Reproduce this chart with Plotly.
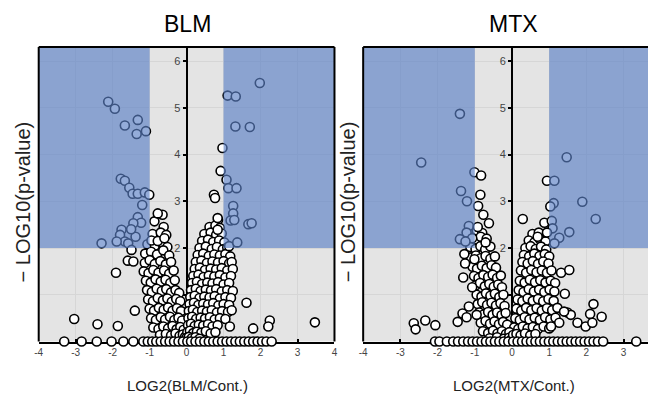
import plotly.graph_objects as go

# ---------------- DATA ----------------
# BLM: significant / outlying points
blm_out_x = [-2.12, -1.94, -1.32, -1.67, -1.35, -1.10, -1.78, -1.67, -1.55, -1.46, -1.32, -1.13, -1.01,
             -1.20, -1.32, -1.23, -1.44, -1.38, -1.50, -1.76, -1.80, -1.67, -1.89, -2.30, -1.58,
             -0.87, -0.65, -0.78, -0.95, -0.78, -0.60, -1.49, -1.59, -1.44, -1.91, -1.40, -1.86, -3.04, -2.41,
             1.98, 1.11, 1.33, 1.32, 1.71, 0.97, 0.92, 1.08, 1.13, 1.35, 0.74, 0.77, 1.26, 1.26, 1.19, 1.29,
             1.67, 1.76, 1.15, 1.37, 0.84, 0.84, 1.62, 1.17, 1.80, 2.25, 2.21, 3.47, 1.22]
blm_out_y = [5.13, 4.98, 4.74, 4.62, 4.44, 4.50, 3.48, 3.44, 3.29, 3.16, 3.16, 3.19, 3.14,
             2.92, 2.66, 2.54, 2.53, 2.24, 2.40, 2.39, 2.28, 2.14, 2.14, 2.10, 2.10,
             2.57, 2.71, 2.74, 2.16, 2.15, 2.21, 1.96, 1.73, 1.71, 1.47, 0.66, 0.33, 0.48, 0.37,
             5.53, 5.26, 5.24, 4.60, 4.59, 4.14, 3.65, 3.46, 3.28, 3.28, 3.14, 3.07, 2.90, 2.74, 2.59, 2.60,
             2.51, 2.53, 2.04, 2.12, 2.64, 2.39, 0.83, 0.32, 0.28, 0.45, 0.32, 0.41, 0.67]

# BLM: dense core, left arm
blm_left_x = [-0.62, -0.92, -0.70, -0.55, -1.06, -0.86, -0.68, -0.52, -1.12, -0.96, -0.80, -0.63, -0.47,
              -1.13, -1.00, -0.86, -0.71, -0.56, -0.42, -1.16, -1.03, -0.90, -0.76, -0.61, -0.47, -0.35,
              -1.10, -0.97, -0.84, -0.70, -0.57, -0.44, -0.32, -1.07, -0.94, -0.81, -0.67, -0.55, -0.42, -0.30, -0.20,
              -1.04, -0.91, -0.78, -0.64, -0.52, -0.40, -0.28, -0.17, -1.00, -0.88, -0.75, -0.62, -0.50, -0.38, -0.26, -0.15,
              -0.96, -0.83, -0.70, -0.58, -0.45, -0.33, -0.22, -0.12, -0.90, -0.76, -0.63, -0.50, -0.38, -0.27, -0.17, -0.08,
              -0.72, -0.56, -0.42, -0.30, -0.19, -0.10, -0.04]
blm_left_y = [2.45, 2.30, 2.33, 2.28, 2.08, 2.05, 2.12, 2.02, 1.88, 1.92, 1.86, 1.95, 1.84,
              1.68, 1.74, 1.66, 1.72, 1.65, 1.70, 1.50, 1.46, 1.53, 1.47, 1.52, 1.45, 1.52,
              1.30, 1.26, 1.33, 1.28, 1.32, 1.25, 1.31, 1.10, 1.06, 1.13, 1.08, 1.12, 1.05, 1.10, 1.04,
              0.90, 0.86, 0.93, 0.88, 0.92, 0.85, 0.91, 0.86, 0.70, 0.66, 0.72, 0.68, 0.73, 0.66, 0.71, 0.65,
              0.50, 0.46, 0.52, 0.47, 0.53, 0.46, 0.51, 0.45, 0.30, 0.27, 0.32, 0.28, 0.33, 0.26, 0.31, 0.25,
              0.14, 0.16, 0.13, 0.17, 0.12, 0.15, 0.10]

# BLM: dense core, right arm
blm_right_x = [0.85, 0.62, 0.78, 0.90, 0.48, 0.65, 0.80, 0.95, 0.42, 0.58, 0.72, 0.88, 1.02,
               0.35, 0.52, 0.68, 0.82, 0.98, 1.10, 0.30, 0.45, 0.60, 0.75, 0.90, 1.05, 1.18,
               0.25, 0.40, 0.55, 0.70, 0.85, 1.00, 1.15, 1.22, 0.22, 0.36, 0.50, 0.65, 0.80, 0.95, 1.10, 1.25,
               0.18, 0.32, 0.46, 0.60, 0.75, 0.90, 1.05, 1.20, 0.15, 0.28, 0.42, 0.56, 0.70, 0.85, 1.00, 1.15,
               0.12, 0.25, 0.38, 0.52, 0.66, 0.80, 0.95, 1.10, 1.25, 0.10, 0.22, 0.35, 0.48, 0.62, 0.76, 0.90, 1.05, 1.20,
               0.08, 0.20, 0.32, 0.45, 0.58, 0.72, 0.86, 1.00, 1.15, 0.06, 0.17, 0.29, 0.42, 0.55, 0.68, 0.82, 0.96, 1.12,
               0.05, 0.15, 0.26, 0.38, 0.50, 0.63, 0.76, 0.90, 1.05, 0.04, 0.12, 0.22, 0.33, 0.45, 0.58, 0.70, 0.84,
               0.02, 0.09, 0.18, 0.28, 0.40, 0.52, 0.65, 0.78, 0.00, 0.06, 0.14, 0.24, 0.35]
blm_right_y = [2.60, 2.45, 2.48, 2.43, 2.30, 2.33, 2.28, 2.31, 2.15, 2.18, 2.13, 2.16, 2.12,
               2.00, 2.03, 1.98, 2.02, 1.97, 2.01, 1.85, 1.88, 1.83, 1.86, 1.84, 1.87, 1.82,
               1.70, 1.73, 1.68, 1.71, 1.69, 1.72, 1.67, 1.70, 1.55, 1.58, 1.53, 1.56, 1.54, 1.57, 1.52, 1.55,
               1.40, 1.43, 1.38, 1.41, 1.39, 1.42, 1.37, 1.40, 1.25, 1.28, 1.23, 1.26, 1.24, 1.27, 1.22, 1.25,
               1.10, 1.13, 1.08, 1.11, 1.09, 1.12, 1.07, 1.10, 1.08, 0.95, 0.98, 0.93, 0.96, 0.94, 0.97, 0.92, 0.95, 0.93,
               0.80, 0.83, 0.78, 0.81, 0.79, 0.82, 0.77, 0.80, 0.78, 0.65, 0.68, 0.63, 0.66, 0.64, 0.67, 0.62, 0.65, 0.63,
               0.50, 0.53, 0.48, 0.51, 0.49, 0.52, 0.47, 0.50, 0.48, 0.35, 0.38, 0.33, 0.36, 0.34, 0.37, 0.32, 0.35,
               0.20, 0.23, 0.18, 0.21, 0.19, 0.22, 0.17, 0.20, 0.08, 0.10, 0.07, 0.09, 0.06]

# BLM: proteins with -log10(p) = 0
blm_zero_x = [-3.31, -2.84, -2.43, -2.03, -1.71, -1.44, -1.17, -1.05, -0.93, -0.82, -0.70, -0.58, -0.46, -0.34,
              -0.22, -0.10, 0.02, 0.12, 0.24, 0.36, 0.48, 0.60, 0.72, 0.84, 0.96, 1.08, 1.20, 1.32, 1.44, 1.56,
              1.68, 1.80, 1.92, 2.04, 2.16, 2.30]

# MTX: significant / outlying points
mtx_out_x = [-1.40, -2.44, -1.01, -0.83, -1.37, -0.85, -1.21, -0.91, -0.77, -0.62, -1.16, -1.22, -1.07, -1.40,
             -1.25, -0.92, -0.71, -1.28, -1.26, -1.01, -1.31, -1.07, -1.16, -1.33, -1.22, -1.46, -2.06, -2.33,
             -2.64, -2.59, -0.95,
             1.47, 0.94, 1.14, 1.12, 1.03, 1.89, 2.25, 0.29, 0.87, 1.07, 1.09, 1.27, 1.54, 1.14, 0.94, 0.69,
             1.32, 1.54, 1.42, 2.19, 1.49, 1.58, 2.10, 2.41, 1.76, 1.98, 2.16, 1.27, 1.05, 1.40]
mtx_out_y = [4.87, 3.83, 3.62, 3.55, 3.22, 3.14, 3.00, 2.90, 2.71, 2.53, 2.47, 2.33, 2.21, 2.19,
             2.14, 2.45, 2.12, 1.87, 1.67, 1.76, 1.37, 1.16, 0.75, 0.60, 0.52, 0.42, 0.35, 0.45,
             0.39, 0.26, 0.57,
             3.94, 3.44, 3.44, 2.96, 2.89, 2.99, 2.62, 2.62, 2.54, 2.58, 2.42, 2.22, 2.34, 2.10, 2.33, 2.24,
             1.47, 1.53, 1.02, 0.80, 0.62, 0.57, 0.59, 0.53, 0.40, 0.32, 0.40, 0.40, 0.32, 0.64]

# MTX: dense core, left arm
mtx_left_x = [-0.95, -0.80, -1.10, -0.96, -0.84, -0.68, -1.12, -0.98, -0.85, -0.72, -0.58,
              -1.10, -0.97, -0.84, -0.71, -0.58, -0.46, -1.06, -0.94, -0.81, -0.68, -0.55, -0.43,
              -1.02, -0.90, -0.77, -0.64, -0.52, -0.40, -0.30, -0.98, -0.86, -0.73, -0.61, -0.49, -0.37, -0.27,
              -0.95, -0.82, -0.70, -0.58, -0.46, -0.34, -0.23, -0.92, -0.80, -0.67, -0.55, -0.43, -0.31, -0.20,
              -0.88, -0.76, -0.64, -0.52, -0.40, -0.28, -0.17, -0.84, -0.71, -0.59, -0.47, -0.35, -0.24, -0.13,
              -0.78, -0.64, -0.51, -0.39, -0.27, -0.16, -0.07, -0.60, -0.40, -0.22, -0.08, -0.02]
mtx_left_y = [2.38, 2.32, 2.22, 2.18, 2.24, 2.20, 2.02, 1.98, 2.04, 1.97, 2.03,
              1.80, 1.84, 1.78, 1.83, 1.77, 1.82, 1.60, 1.56, 1.62, 1.57, 1.63, 1.58,
              1.40, 1.36, 1.42, 1.38, 1.43, 1.36, 1.41, 1.20, 1.25, 1.18, 1.23, 1.17, 1.22, 1.16,
              1.00, 0.96, 1.03, 0.98, 1.02, 0.95, 1.00, 0.80, 0.84, 0.78, 0.83, 0.77, 0.82, 0.76,
              0.62, 0.58, 0.63, 0.57, 0.62, 0.56, 0.61, 0.40, 0.44, 0.38, 0.43, 0.37, 0.42, 0.36,
              0.22, 0.18, 0.23, 0.17, 0.22, 0.16, 0.20, 0.07, 0.09, 0.06, 0.08, 0.04]

# MTX: dense core, right arm
mtx_right_x = [0.55, 0.72, 0.45, 0.60, 0.76, 0.90, 0.36, 0.50, 0.64, 0.78, 0.92,
               0.32, 0.46, 0.60, 0.74, 0.88, 1.00, 0.28, 0.42, 0.56, 0.70, 0.84, 0.98,
               0.24, 0.38, 0.52, 0.66, 0.80, 0.94, 1.06, 0.21, 0.34, 0.48, 0.62, 0.76, 0.90, 1.04, 1.16,
               0.18, 0.31, 0.45, 0.59, 0.73, 0.87, 1.01, 1.14, 0.15, 0.28, 0.42, 0.56, 0.70, 0.84, 0.98, 1.12,
               0.12, 0.25, 0.38, 0.52, 0.66, 0.80, 0.94, 1.08, 1.22, 0.09, 0.21, 0.34, 0.47, 0.61, 0.75, 0.89, 1.03, 1.17,
               0.06, 0.17, 0.29, 0.42, 0.56, 0.70, 0.85, 1.00, 0.03, 0.12, 0.23, 0.35, 0.49, 0.63]
mtx_right_y = [2.30, 2.33, 2.16, 2.12, 2.18, 2.14, 2.00, 2.04, 1.98, 2.03, 1.97,
               1.85, 1.82, 1.88, 1.83, 1.87, 1.82, 1.70, 1.67, 1.72, 1.66, 1.71, 1.67,
               1.52, 1.47, 1.53, 1.48, 1.52, 1.47, 1.52, 1.30, 1.26, 1.32, 1.27, 1.31, 1.26, 1.30, 1.25,
               1.10, 1.06, 1.12, 1.07, 1.11, 1.06, 1.11, 1.07, 0.90, 0.86, 0.92, 0.87, 0.91, 0.86, 0.91, 0.87,
               0.70, 0.66, 0.72, 0.67, 0.71, 0.66, 0.71, 0.67, 0.72, 0.50, 0.46, 0.52, 0.47, 0.51, 0.46, 0.52, 0.47, 0.51,
               0.30, 0.27, 0.32, 0.28, 0.31, 0.27, 0.32, 0.28, 0.14, 0.16, 0.13, 0.17, 0.13, 0.16]

# MTX: proteins with -log10(p) = 0
mtx_zero_x = [-2.07, -1.95, -1.75, -1.58, -1.45, -1.31, -1.18, -1.06, -0.94, -0.82, -0.70, -0.58, -0.46, -0.34,
              -0.22, -0.10, 0.03, 0.15, 0.27, 0.39, 0.51, 0.63, 0.75, 0.87, 0.99, 1.11, 1.23, 1.35, 1.47, 1.59,
              1.71, 1.83, 1.95, 2.07, 2.19, 2.31, 2.45, 3.34]

panel_titles = ["BLM", "MTX"]
x_titles = ["LOG2(BLM/Cont.)", "LOG2(MTX/Cont.)"]
y_title = "− LOG10(p-value)"
x_ticks = [-4, -3, -2, -1, 0, 1, 2, 3, 4]
y_ticks = [1, 2, 3, 4, 5, 6]
y_ticktext = ["", "2", "3", "4", "5", "6"]
fc_cut = 1      # |log2 FC| threshold
p_cut = 2       # -log10 p threshold

# ---------------- LAYOUT ----------------
OFF = 8                      # default page body margin
W, H = 656 - OFF, 396 - OFF
def fx(px):
    return (px - OFF) / W
def fy(py):
    return 1 - (py - OFF) / H

SANS = "Liberation Sans, Arial, sans-serif"

y_range = [0, 6.3]
x_range_l = [-4, 4]
x_range_r = [-4, 3.79]
dom_l = [fx(35), fx(334)]
dom_r = [fx(363), 1.0]
dom_y = [fy(341.5), fy(47)]

marker = dict(size=9, color="white", line=dict(color="black", width=1.6))

def split(xs, ys, low):
    pts = [(a, b) for a, b in zip(xs, ys) if (b < 0.25) == low]
    return [p[0] for p in pts], [p[1] for p in pts]

fig = go.Figure()
panels = [
    (blm_zero_x, blm_left_x + blm_right_x + blm_out_x, blm_left_y + blm_right_y + blm_out_y, "x", "y"),
    (mtx_zero_x, mtx_left_x + mtx_right_x + mtx_out_x, mtx_left_y + mtx_right_y + mtx_out_y, "x2", "y2"),
]
for zx, xs, ys, xa, ya in panels:
    hx, hy = split(xs, ys, False)
    fig.add_trace(go.Scatter(x=hx, y=hy, mode="markers", marker=marker, cliponaxis=True,
                             xaxis=xa, yaxis=ya, showlegend=False))
    lx, ly = split(xs, ys, True)
    fig.add_trace(go.Scatter(x=lx + zx, y=ly + [0] * len(zx), mode="markers", marker=marker,
                             cliponaxis=False, xaxis=xa, yaxis=ya, showlegend=False))

def xaxis_cfg(dom, rng, anchor):
    return dict(domain=dom, range=rng, anchor=anchor, tickmode="array", tickvals=x_ticks,
                ticktext=[str(v) for v in x_ticks], ticks="inside", ticklen=3, tickwidth=1.5,
                tickcolor="black", tickfont=dict(family=SANS, size=10, color="#444444"),
                showline=True, linecolor="black", linewidth=2, showgrid=True, gridcolor="#d6d6d6",
                gridwidth=1, zeroline=False, layer="below traces", fixedrange=True)

def yaxis_cfg(pos):
    return dict(domain=dom_y, range=y_range, anchor="free", position=pos, tickmode="array",
                tickvals=y_ticks, ticktext=y_ticktext, ticks="outside", ticklen=3, tickwidth=1.5,
                tickcolor="black", tickfont=dict(family=SANS, size=11, color="#444444"),
                showline=True, linecolor="black", linewidth=2, showgrid=True, gridcolor="#d6d6d6",
                gridwidth=1, zeroline=False, layer="below traces", fixedrange=True)

pos_l = dom_l[0] + (0 - x_range_l[0]) / (x_range_l[1] - x_range_l[0]) * (dom_l[1] - dom_l[0])
pos_r = dom_r[0] + (0 - x_range_r[0]) / (x_range_r[1] - x_range_r[0]) * (dom_r[1] - dom_r[0])

shapes = []
BLUE = "#5b80c4"
for xr, yr, rng in (("x", "y", x_range_l), ("x2", "y2", x_range_r)):
    shapes.append(dict(type="rect", xref=xr, yref=yr, x0=rng[0], x1=-fc_cut, y0=p_cut, y1=y_range[1],
                       fillcolor=BLUE, opacity=0.65, line=dict(width=0), layer="above"))
    shapes.append(dict(type="rect", xref=xr, yref=yr, x0=fc_cut, x1=rng[1], y0=p_cut, y1=y_range[1],
                       fillcolor=BLUE, opacity=0.65, line=dict(width=0), layer="above"))
frame = dict(color="black", width=2)
# left panel frame (left, top, right)
shapes.append(dict(type="line", xref="paper", yref="paper", x0=dom_l[0], x1=dom_l[0], y0=dom_y[0], y1=dom_y[1], line=frame, layer="above"))
shapes.append(dict(type="line", xref="paper", yref="paper", x0=dom_l[0], x1=dom_l[1], y0=dom_y[1], y1=dom_y[1], line=frame, layer="above"))
shapes.append(dict(type="line", xref="paper", yref="paper", x0=dom_l[1], x1=dom_l[1], y0=dom_y[0], y1=dom_y[1], line=frame, layer="above"))
# right panel frame (left, top)
shapes.append(dict(type="line", xref="paper", yref="paper", x0=dom_r[0], x1=dom_r[0], y0=dom_y[0], y1=dom_y[1], line=frame, layer="above"))
shapes.append(dict(type="line", xref="paper", yref="paper", x0=dom_r[0], x1=dom_r[1], y0=dom_y[1], y1=dom_y[1], line=frame, layer="above"))

annotations = []
for cx, t in ((185, panel_titles[0]), (515, panel_titles[1])):
    annotations.append(dict(text=t, x=fx(cx), y=fy(24), xref="paper", yref="paper", showarrow=False,
                            xanchor="center", yanchor="middle",
                            font=dict(family=SANS, size=23, color="black")))
for cx, t in ((185, x_titles[0]), (515, x_titles[1])):
    annotations.append(dict(text=t, x=fx(cx), y=fy(385), xref="paper", yref="paper", showarrow=False,
                            xanchor="center", yanchor="middle",
                            font=dict(family=SANS, size=15, color="#222222")))
for cx in (19.5, 348):
    annotations.append(dict(text=y_title, x=fx(cx), y=fy(202), xref="paper", yref="paper", showarrow=False,
                            xanchor="center", yanchor="middle", textangle=-90,
                            font=dict(family=SANS, size=20, color="#222222")))

fig.update_layout(
    width=W, height=H, margin=dict(l=0, r=0, t=0, b=0),
    paper_bgcolor="white", plot_bgcolor="#e4e4e4",
    xaxis=xaxis_cfg(dom_l, x_range_l, "y"),
    xaxis2=xaxis_cfg(dom_r, x_range_r, "y2"),
    yaxis=yaxis_cfg(pos_l),
    yaxis2=yaxis_cfg(pos_r),
    shapes=shapes, annotations=annotations, showlegend=False,
)
fig.write_html("out.html")
